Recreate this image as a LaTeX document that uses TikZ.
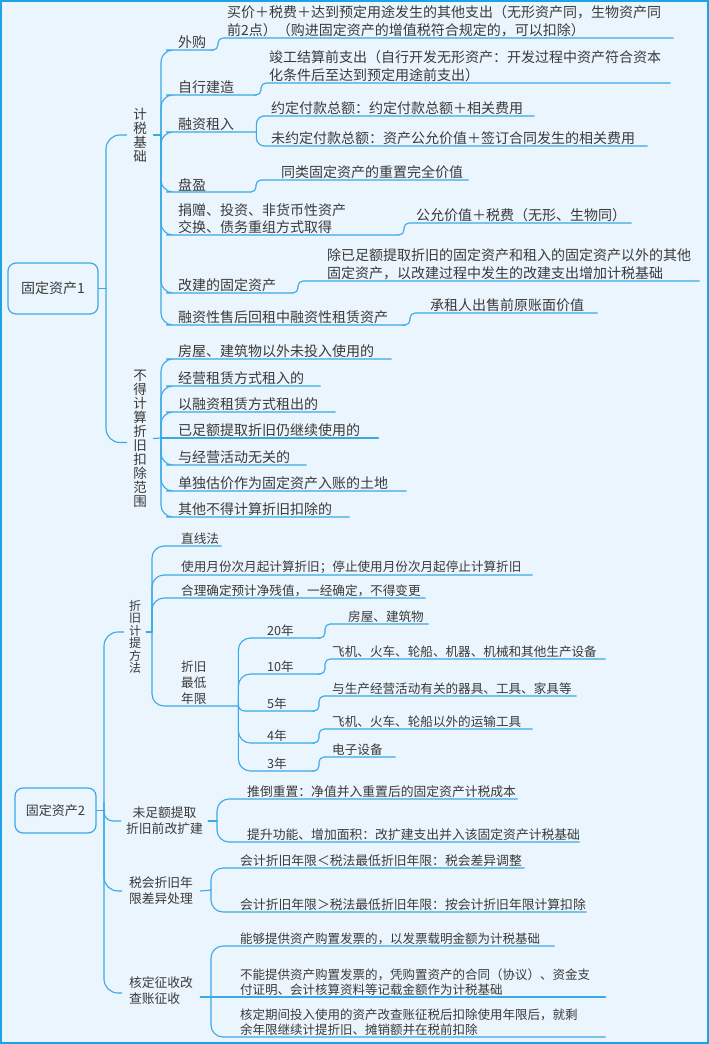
\documentclass[tikz,border=0pt]{standalone}
\usepackage{fontspec}
\setmainfont{Noto Sans CJK SC}
\definecolor{bgc}{HTML}{EAF5FD}
\definecolor{bdc}{HTML}{1BA3E3}
\definecolor{lnc}{HTML}{3AA9E6}
\definecolor{txc}{HTML}{3A3A3A}
\tikzset{
  conn/.style={draw=lnc, line width=1.1pt, line cap=round},
  txt/.style={anchor=south west, inner xsep=0pt, inner ysep=1pt, align=left, text=txc},
  fA/.style={font=\fontsize{14}{17.5}\selectfont},
  fB/.style={font=\fontsize{12.6}{15.5}\selectfont},
  fC/.style={font=\fontsize{12.8}{15.5}\selectfont},
  fN/.style={font=\fontsize{12.5}{15.5}\selectfont},
  vlab/.style={align=center, inner xsep=6.5pt, inner ysep=0pt, text=txc},
  glab/.style={inner xsep=5pt, inner ysep=0pt, text=txc, font=\fontsize{12.8}{16}\selectfont},
  rootbox/.style={draw=lnc, fill=bgc, line width=1.2pt, rounded corners=8pt, text=txc}
}
\begin{document}
\begin{tikzpicture}[x=1pt,y=-1pt]
\fill[bgc] (0,0) rectangle (709,1044);
\useasboundingbox (0,0) rectangle (709,1044);
\draw[bdc,line width=2.4pt] (1.2,1.2) rectangle (707.8,1042.8);

% ===== Section 1 =====
\node[rootbox,minimum width=90pt,minimum height=51pt,font=\fontsize{14}{16}\selectfont] (r1) at (53,288.5) {固定资产1};
\coordinate (t1) at (106,288.5);
\node[vlab,font=\fontsize{13.5}{14}\selectfont] (jsjc) at (140,135) {计\\税\\基\\础};
\node[vlab,font=\fontsize{13.5}{14}\selectfont] (bdjs) at (140,438.5) {不\\得\\计\\算\\折\\旧\\扣\\除\\范\\围};
\coordinate (t2) at (161,135);
\coordinate (t3) at (161,438);

\node[txt,fA,text width=35pt] (c1) at (178,50) {外购};
\node[txt,fA,text width=446pt] (g1) at (227,38) {买价＋税费＋达到预定用途发生的其他支出（无形资产同，生物资产同\\前2点）（购进固定资产的增值税符合规定的，可以扣除）};
\node[txt,fA,text width=78pt] (c2) at (178,95) {自行建造};
\node[txt,fA,text width=401pt] (g2) at (269,83) {竣工结算前支出（自行开发无形资产：开发过程中资产符合资本\\化条件后至达到预定用途前支出）};
\node[txt,fA,text width=78pt] (c3) at (178,132) {融资租入};
\node[txt,fA,text width=263pt] (g3a) at (271,116) {约定付款总额：约定付款总额＋相关费用};
\node[txt,fA,text width=376pt] (g3b) at (271,146) {未约定付款总额：资产公允价值＋签订合同发生的相关费用};
\node[txt,fA,text width=72pt] (c4) at (178,192) {盘盈};
\node[txt,fA,text width=187pt] (g4) at (281,180) {同类固定资产的重置完全价值};
\node[txt,fA,text width=220pt] (c5) at (178,235) {捐赠、投资、非货币性资产\\交换、债务重组方式取得};
\node[txt,fA,text width=215pt] (g5) at (416,223) {公允价值＋税费（无形、生物同）};
\node[txt,fA,text width=114pt] (c6) at (178,293) {改建的固定资产};
\node[txt,fA,text width=372pt] (g6) at (327,281) {除已足额提取折旧的固定资产和租入的固定资产以外的其他\\固定资产，以改建过程中发生的改建支出增加计税基础};
\node[txt,fA,text width=227pt] (c7) at (178,325) {融资性售后回租中融资性租赁资产};
\node[txt,fA,text width=167pt] (g7) at (430,313) {承租人出售前原账面价值};

\node[txt,fA,text width=213pt] (d1) at (178,359) {房屋、建筑物以外未投入使用的};
\node[txt,fA,text width=142pt] (d2) at (178,386) {经营租赁方式租入的};
\node[txt,fA,text width=157pt] (d3) at (178,412) {以融资租赁方式租出的};
\node[txt,fA,text width=200pt] (d4) at (178,438) {已足额提取折旧仍继续使用的};
\node[txt,fA,text width=128pt] (d5) at (178,465) {与经营活动无关的};
\node[txt,fA,text width=228pt] (d6) at (178,491) {单独估价作为固定资产入账的土地};
\node[txt,fA,text width=171pt] (d7) at (178,517) {其他不得计算折旧扣除的};

\draw[conn] (r1.east) -- (t1);
\draw[conn,rounded corners=14pt] (t1) |- (jsjc.west);
\draw[conn,rounded corners=14pt] (t1) |- ([yshift=-4pt]bdjs.west);
\draw[conn] (jsjc.east) -- (t2);
\draw[conn] (bdjs.east) -- (t3);
\foreach \n in {c1,c2,c3,c4,c5,c6,c7}{
  \draw[conn,rounded corners=12pt] (t2) |- (\n.south west) -- (\n.south east);
}
\foreach \n in {d1,d2,d3,d5,d6,d7}{
  \draw[conn,rounded corners=12pt] (t3) |- (\n.south west) -- (\n.south east);
}
\draw[conn] (t3) -- (d4.south east);
\draw[conn,rounded corners=5pt] (c1.south east) -| ([xshift=-9pt]g1.south west) -- (g1.south east);
\draw[conn,rounded corners=5pt] (c2.south east) -| ([xshift=-8pt]g2.south west) -- (g2.south east);
\draw[conn,rounded corners=8pt] (c3.south east) |- (g3a.south west) -- (g3a.south east);
\draw[conn,rounded corners=8pt] (c3.south east) |- (g3b.south west) -- (g3b.south east);
\draw[conn,rounded corners=5pt] (c4.south east) -| ([xshift=-25pt]g4.south west) -- (g4.south east);
\draw[conn,rounded corners=5pt] (c5.south east) -| ([xshift=-12pt]g5.south west) -- (g5.south east);
\draw[conn,rounded corners=5pt] (c6.south east) -| ([xshift=-29pt]g6.south west) -- (g6.south east);
\draw[conn,rounded corners=5pt] (c7.south east) -| ([xshift=-20pt]g7.south west) -- (g7.south east);

% ===== Section 2 =====
\node[rootbox,minimum width=81pt,minimum height=45pt,font=\fontsize{13}{15}\selectfont] (r2) at (55.5,810.5) {固定资产2};
\coordinate (t4) at (104,810.5);
\node[vlab,inner xsep=5pt,font=\fontsize{12}{12.5}\selectfont] (L1) at (135,637) {折\\旧\\计\\提\\方\\法};
\node[glab,align=center] (L2) at (164.5,821) {未足额提取\\折旧前改扩建};
\node[glab,align=left,inner xsep=7pt] (L3) at (161,891) {税会折旧年\\限差异处理};
\node[glab,align=left,inner xsep=7pt] (L4) at (161,991) {核定征收改\\查账征收};
\coordinate (t5) at (152,632);
\coordinate (t6) at (217,821);
\coordinate (t7) at (211,890);
\coordinate (t8) at (211,997);

\node[txt,fB,text width=40pt] (e1) at (181,546) {直线法};
\node[txt,fB,text width=351pt] (e2) at (181,575) {使用月份次月起计算折旧；停止使用月份次月起停止计算折旧};
\node[txt,fB,text width=244pt] (e3) at (181,598) {合理确定预计净残值，一经确定，不得变更};
\node[txt,fB,text width=57pt,font=\fontsize{12.6}{16}\selectfont] (e4) at (181,706) {折旧\\最低\\年限};

\node[txt,fB,text width=53pt] (f1) at (267,638) {20年};
\node[txt,fB,text width=53pt] (f2) at (267,674) {10年};
\node[txt,fB,text width=47pt] (f3) at (267,711) {5年};
\node[txt,fB,text width=47pt] (f4) at (267,743) {4年};
\node[txt,fB,text width=47pt] (f5) at (267,771) {3年};
\node[txt,fB,text width=80pt] (h1) at (348,624) {房屋、建筑物};
\node[txt,fB,text width=273pt] (h2) at (332,659) {飞机、火车、轮船、机器、机械和其他生产设备};
\node[txt,fB,text width=244pt] (h3) at (332,696) {与生产经营活动有关的器具、工具、家具等};
\node[txt,fB,text width=200pt] (h4) at (332,729) {飞机、火车、轮船以外的运输工具};
\node[txt,fB,text width=63pt] (h5) at (332,757) {电子设备};

\node[txt,fC,text width=270pt] (k1) at (247,799) {推倒重置：净值并入重置后的固定资产计税成本};
\node[txt,fC,text width=332pt] (k2) at (247,842) {提升功能、增加面积：改扩建支出并入该固定资产计税基础};
\node[txt,fC,text width=284pt] (m1) at (240,868) {会计折旧年限＜税法最低折旧年限：税会差异调整};
\node[txt,fC,text width=346pt] (m2) at (240,912) {会计折旧年限＞税法最低折旧年限：按会计折旧年限计算扣除};
\node[txt,fN,text width=314pt] (n1) at (240,946) {能够提供资产购置发票的，以发票载明金额为计税基础};
\node[txt,fN,text width=365pt] (n2) at (240,997) {不能提供资产购置发票的，凭购置资产的合同（协议）、资金支\\付证明、会计核算资料等记载金额作为计税基础};
\node[txt,fN,text width=365pt] (n3) at (240,1037) {核定期间投入使用的资产改查账征税后扣除使用年限后，就剩\\余年限继续计提折旧、摊销额并在税前扣除};

\draw[conn] (r2.east) -- (t4);
\draw[conn,rounded corners=14pt] (t4) |- ([yshift=5pt]L1.west);
\draw[conn,rounded corners=9pt] ([yshift=8pt]t4) |- (L2.west);
\draw[conn,rounded corners=14pt] (t4) |- (L3.west);
\draw[conn,rounded corners=14pt] (t4) |- ([yshift=-2pt]L4.west);
\draw[conn] ([yshift=5pt]L1.east) -- (t5);
\draw[conn] (L2.east) -- (t6);
\draw[conn] (L3.east) -- (t7);
\draw[conn] ([yshift=-6pt]L4.east) -- (t8);

\foreach \n in {e1,e2,e3,e4}{
  \draw[conn,rounded corners=12pt] (t5) |- (\n.south west) -- (\n.south east);
}
\foreach \n in {f1,f2,f4,f5}{
  \draw[conn,rounded corners=12pt] (e4.south east) |- (\n.south west) -- (\n.south east);
}
\draw[conn,rounded corners=6pt] ([yshift=6pt]e4.south east) |- (f3.south west) -- (f3.south east);
\draw[conn,rounded corners=5pt] (f1.south east) -| ([xshift=-23pt]h1.south west) -- (h1.south east);
\draw[conn,rounded corners=5pt] (f2.south east) -| ([xshift=-7pt]h2.south west) -- (h2.south east);
\draw[conn,rounded corners=5pt] (f3.south east) -| ([xshift=-13pt]h3.south west) -- (h3.south east);
\draw[conn,rounded corners=5pt] (f4.south east) -| ([xshift=-13pt]h4.south west) -- (h4.south east);
\draw[conn,rounded corners=5pt] (f5.south east) -| ([xshift=-13pt]h5.south west) -- (h5.south east);

\foreach \n in {k1,k2}{
  \draw[conn,rounded corners=12pt] (t6) |- (\n.south west) -- (\n.south east);
}
\foreach \n in {m1,m2}{
  \draw[conn,rounded corners=12pt] (t7) |- (\n.south west) -- (\n.south east);
}
\foreach \n in {n1,n3}{
  \draw[conn,rounded corners=12pt] (t8) |- (\n.south west) -- (\n.south east);
}
\draw[conn] (t8) -- (n2.south east);
\end{tikzpicture}
\end{document}
